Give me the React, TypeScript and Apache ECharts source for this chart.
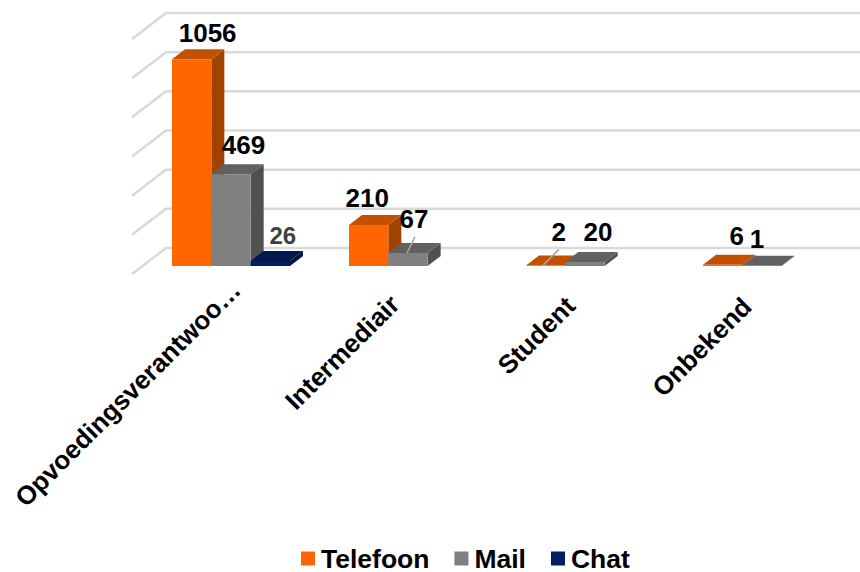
import React, { useEffect, useRef } from "react";
import * as echarts from "echarts";

const categories = ["Opvoedingsverantwoo…", "Intermediair", "Student", "Onbekend"];
const telefoon = [1056, 210, 2, 6];
const mail = [469, 67, 20, 1];
const chat = [26, null, null, null];
const gridTicks = [0, 200, 400, 600, 800, 1000, 1200];

// label placement (offset from the top centre of each bar), kept apart from the values
const telefoonLabelOffsets = [[16, -26], [-1.5, -27], [13, -34], [14, -29]];
const mailLabelOffsets = [[12.5, -29], [6, -34], [13, -30], [-5, -27]];
const chatLabelOffsets = [[12.5, -25]];
const telefoonLeaders = [null, null, [[13, -16], [-3, 0]], null];
const mailLeaders = [null, [[7, -16], [-1, 0]], null, null];
const categoryLabelPaddings = [
  [0, 0, 0, 0],
  [0, 23, 0, 0],
  [0, 25, 0, 0],
  [0, 26, 0, 0],
];
const categoryLabelLineHeights = [14, 8.5, 9, 9];

const FONT = "'Liberation Sans', Arial, sans-serif";
const DEPTH_X = 13;
const DEPTH_Y = -10;

type Look = { front: string; top: string; side: string; labelColor: string; labelSize: number };

function barSeries(
  name: string,
  values: (number | null)[],
  slot: number,
  look: Look,
  offsets: number[][],
  leaders: (number[][] | null)[] = [],
) {
  const data = values
    .map((v, i) => (v === null ? null : [i, v]))
    .filter((d) => d !== null);
  return {
    name,
    type: "custom",
    coordinateSystem: "cartesian2d",
    itemStyle: { color: look.front },
    encode: { x: 0, y: 1 },
    data,
    z: 3 + slot,
    renderItem: (_p: any, api: any) => {
      const i = api.value(0);
      const v = api.value(1);
      const base = api.coord([i, 0]);
      const topPt = api.coord([i, v]);
      const band = api.size([1, 0])[0];
      const w = band / 4.5;
      const l = base[0] - 1.5 * w + slot * w;
      const r = l + w;
      const b = base[1];
      const t = topPt[1];
      const children: any[] = [
        {
          type: "polygon",
          shape: { points: [[r, b], [r + DEPTH_X, b + DEPTH_Y], [r + DEPTH_X, t + DEPTH_Y], [r, t]] },
          style: { fill: look.side },
        },
        {
          type: "polygon",
          shape: { points: [[l, t], [r, t], [r + DEPTH_X, t + DEPTH_Y], [l + DEPTH_X, t + DEPTH_Y]] },
          style: { fill: look.top },
        },
        {
          type: "rect",
          shape: { x: l, y: t, width: w, height: b - t },
          style: { fill: look.front },
        },
      ];
      const cx = l + w / 2;
      const off = offsets[i];
      const leader = leaders[i];
      if (leader) {
        children.push({
          type: "line",
          z2: 50,
          shape: {
            x1: cx + leader[0][0],
            y1: t + leader[0][1],
            x2: cx + leader[1][0],
            y2: t + leader[1][1],
          },
          style: { stroke: "#a6a6a6", lineWidth: 1.5 },
        });
      }
      children.push({
        type: "text",
        z2: 100,
        x: cx + off[0],
        y: t + off[1],
        style: {
          text: String(v),
          fill: look.labelColor,
          font: `bold ${look.labelSize}px ${FONT}`,
          textAlign: "center",
          textVerticalAlign: "middle",
        },
      });
      return { type: "group", children };
    },
  };
}

export default function App() {
  const ref = useRef<HTMLDivElement>(null);
  useEffect(() => {
    document.body.style.margin = "0";
    const chart = echarts.init(ref.current!, undefined, { renderer: "svg" });
    chart.setOption({
      animation: false,
      backgroundColor: "#ffffff",
      grid: { left: 142.5, top: 31, width: 708, height: 235 },
      xAxis: {
        type: "category",
        data: categories.map((value, i) => ({
          value,
          textStyle: {
            padding: categoryLabelPaddings[i],
            verticalAlign: "top",
            lineHeight: categoryLabelLineHeights[i],
          },
        })),
        axisLine: { show: false },
        axisTick: { show: false },
        splitLine: { show: false },
        axisLabel: {
          rotate: 45,
          interval: 0,
          margin: 14.5,
          color: "#000000",
          fontFamily: FONT,
          fontWeight: "bold",
          fontSize: 26,
        },
      },
      yAxis: { type: "value", show: false, min: 0, max: 1200, interval: 200 },
      legend: {
        left: 301,
        top: 545,
        padding: 0,
        itemWidth: 14,
        itemHeight: 14,
        itemGap: 25,
        icon: "rect",
        selectedMode: false,
        data: ["Telefoon", "Mail", "Chat"],
        textStyle: {
          color: "#000000",
          fontFamily: FONT,
          fontWeight: "bold",
          fontSize: 26.5,
          lineHeight: 22,
          padding: [0, 0, 0, 1],
        },
      },
      series: [
        {
          name: "Raster",
          type: "custom",
          coordinateSystem: "cartesian2d",
          silent: true,
          z: 1,
          encode: { y: 0 },
          data: gridTicks.map((t) => [t]),
          renderItem: (_p: any, api: any) => {
            const p = api.coord([0, api.value(0)]);
            const band = api.size([1, 0])[0];
            const plane = p[0] - band / 2;
            const y = p[1];
            return {
              type: "group",
              children: [
                {
                  type: "polyline",
                  shape: {
                    points: [
                      [plane - 10.5, y + 8],
                      [plane + 23.5, y - 18],
                      [900, y - 18],
                    ],
                  },
                  style: { stroke: "#d9d9d9", lineWidth: 2.5, fill: "none" },
                },
              ],
            };
          },
        },
        barSeries(
          "Telefoon",
          telefoon,
          0,
          { front: "#ff6600", top: "#c25000", side: "#a04200", labelColor: "#000000", labelSize: 26 },
          telefoonLabelOffsets,
          telefoonLeaders,
        ),
        barSeries(
          "Mail",
          mail,
          1,
          { front: "#808080", top: "#616161", side: "#505050", labelColor: "#000000", labelSize: 26 },
          mailLabelOffsets,
          mailLeaders,
        ),
        barSeries(
          "Chat",
          chat,
          2,
          { front: "#002060", top: "#001a4f", side: "#001540", labelColor: "#404040", labelSize: 24 },
          chatLabelOffsets,
        ),
      ],
    });
    return () => chart.dispose();
  }, []);
  return <div ref={ref} style={{ width: 860, height: 572, overflow: "hidden" }} />;
}
